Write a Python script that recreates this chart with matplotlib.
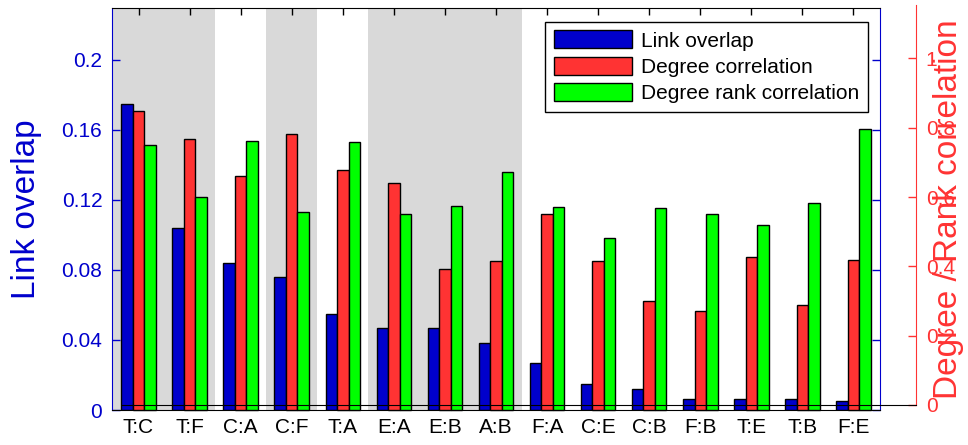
import numpy as np
import matplotlib
matplotlib.use("Agg")
import matplotlib.pyplot as plt

plt.rcParams["font.family"] = ["Liberation Sans", "DejaVu Sans"]

# layer pairs and the three measures per pair
pairs = ["T:C", "T:F", "C:A", "C:F", "T:A", "E:A", "E:B", "A:B",
         "F:A", "C:E", "C:B", "F:B", "T:E", "T:B", "F:E"]
link_overlap = [0.175, 0.104, 0.084, 0.076, 0.055, 0.047, 0.047, 0.038,
                0.027, 0.015, 0.012, 0.006, 0.006, 0.006, 0.005]
degree_corr = [0.847, 0.768, 0.662, 0.782, 0.678, 0.640, 0.392, 0.415,
               0.550, 0.415, 0.299, 0.271, 0.427, 0.289, 0.419]
rank_corr = [0.751, 0.599, 0.761, 0.556, 0.759, 0.550, 0.573, 0.673,
             0.572, 0.481, 0.567, 0.550, 0.520, 0.584, 0.797]

# groups of pairs (1-based, inclusive) with a grey background
shaded = [(1, 2), (4, 4), (6, 8)]

left_ticks = [0, 0.04, 0.08, 0.12, 0.16, 0.2]
left_ticklabels = ["0", "0.04", "0.08", "0.12", "0.16", "0.2"]
right_ticks = [0, 0.2, 0.4, 0.6, 0.8, 1.0]
right_ticklabels = ["0", "0.2", "0.4", "0.6", "0.8", "1"]

BLUE = "#0000CC"
RED = "#FF3333"
GREEN = "#00FF00"
GREY = "#D9D9D9"

W, H = 968, 445
fig = plt.figure(figsize=(W / 100, H / 100), dpi=100)

def px_axes(l, r, t, b):
    return fig.add_axes([l / W, (H - b) / H, (r - l) / W, (b - t) / H])

x = np.arange(1, len(pairs) + 1)
bw = 0.225

# --- left axis: link overlap
ax1 = px_axes(112, 880, 8, 410)
ax1.set_xlim(0.481, 15.519)
ax1.set_ylim(0, 0.2297)
for a, b in shaded:
    ax1.axvspan(max(a - 0.5, 0.481), b + 0.5, color=GREY, lw=0, zorder=0)
b1 = ax1.bar(x - bw, link_overlap, bw, color=BLUE, edgecolor="black",
             linewidth=1, zorder=2, label="Link overlap")

ax1.set_xticks(x)
ax1.set_xticklabels(pairs, fontsize=15)
ax1.tick_params(axis="x", direction="in", top=True, bottom=True, length=5,
                width=1, color="black", pad=6)
ax1.set_yticks(left_ticks)
ax1.set_yticklabels(left_ticklabels, fontsize=15)
ax1.tick_params(axis="y", direction="in", left=True, right=True, length=6,
                width=1, colors=BLUE, pad=7)
for s in ["left", "right"]:
    ax1.spines[s].set_color(BLUE)
for s in ["top", "bottom"]:
    ax1.spines[s].set_color("black")
ax1.set_ylabel("Link overlap", fontsize=24, color=BLUE,
               ha="center", va="center")
ax1.yaxis.set_label_coords(-0.111, 0.5)

# --- right axis: correlations
ax2 = px_axes(122, 916, 5, 405)
ax2.patch.set_visible(False)
ax2.set_xlim(0.677, 16.224)
ax2.set_ylim(0, 1.154)
base = -5 / 400 * 1.154  # bars reach down to the lower frame
b2 = ax2.bar(x, np.array(degree_corr) - base, bw, bottom=base, color=RED,
             edgecolor="black", linewidth=1, clip_on=False,
             label="Degree correlation")
b3 = ax2.bar(x + bw, np.array(rank_corr) - base, bw, bottom=base, color=GREEN,
             edgecolor="black", linewidth=1, clip_on=False,
             label="Degree rank correlation")
ax2.set_xticks([])
for s in ["top", "left"]:
    ax2.spines[s].set_visible(False)
ax2.spines["bottom"].set_color("black")
ax2.spines["right"].set_color(RED)
ax2.yaxis.tick_right()
ax2.set_yticks(right_ticks)
ax2.set_yticklabels(right_ticklabels, fontsize=15)
ax2.tick_params(axis="y", direction="in", right=True, left=False, length=6,
                width=1, colors=RED, pad=7)
ax2.set_ylabel("Degree / Rank correlation", fontsize=24, color=RED,
               rotation=90, ha="center", va="center")
ax2.yaxis.set_label_position("right")
ax2.yaxis.set_label_coords(1.021, 0.49)

leg = ax2.legend(handles=[b1, b2, b3], loc="upper right",
                 bbox_to_anchor=(0.984, 0.965), bbox_transform=ax1.transAxes,
                 borderaxespad=0, fontsize=15, handlelength=3.75,
                 handleheight=0.95, labelspacing=0.3, handletextpad=0.45,
                 borderpad=0.4, fancybox=False, framealpha=1)
leg.get_frame().set_edgecolor("black")
leg.get_frame().set_linewidth(1)

fig.savefig("out.png", dpi=100)
